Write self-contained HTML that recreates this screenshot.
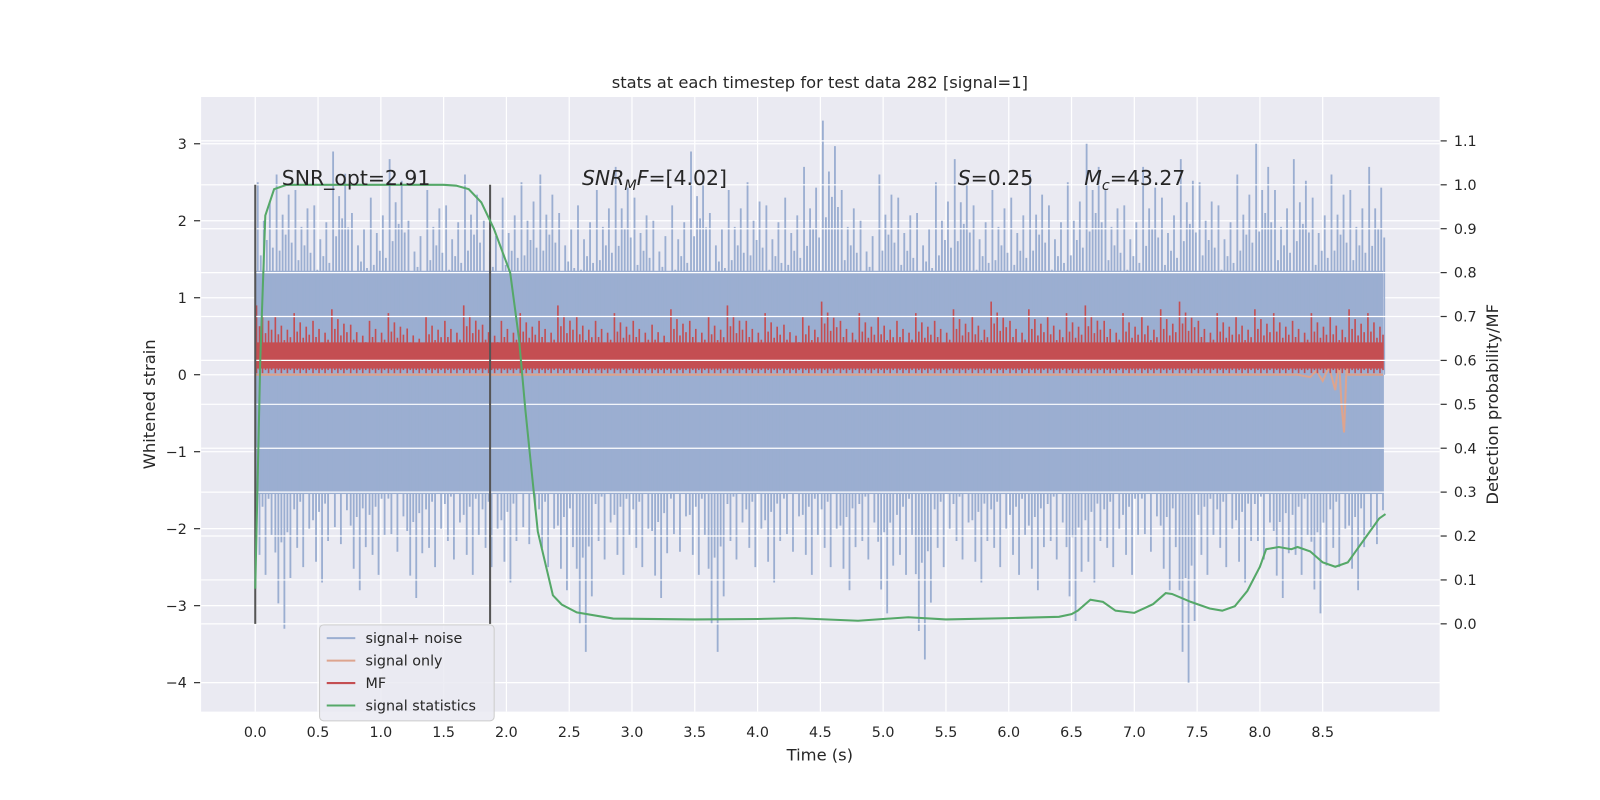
<!DOCTYPE html>
<html><head><meta charset="utf-8"><style>
html,body{margin:0;padding:0;background:#fff;overflow:hidden;width:1600px;height:800px;}
svg{display:block;font-family:"DejaVu Sans","Liberation Sans",sans-serif;}
</style></head><body>
<svg id="chart" width="1600" height="800">
<g transform="scale(1.021)">
<g id="data"></g>
<text x="803" y="86" text-anchor="middle" font-size="16" fill="#262626">stats at each timestep for test data 282 [signal=1]</text>
<text x="803" y="745" text-anchor="middle" font-size="16" fill="#262626">Time (s)</text>
<text transform="translate(152,396) rotate(-90)" text-anchor="middle" font-size="16" fill="#262626">Whitened strain</text>
<text transform="translate(1467,396) rotate(-90)" text-anchor="middle" font-size="16" fill="#262626">Detection probability/MF</text>
<g font-size="20" fill="#262626">
<text x="276" y="181">SNR_opt=2.91</text>
<text x="570" y="181"><tspan font-style="italic">SNR</tspan><tspan font-style="italic" font-size="14" dy="5">M</tspan><tspan font-style="italic" dy="-5">F</tspan>=[4.02]</text>
<text x="938" y="181"><tspan font-style="italic">S</tspan>=0.25</text>
<text x="1062" y="181"><tspan font-style="italic">M</tspan><tspan font-style="italic" font-size="14" dy="5">c</tspan><tspan dy="-5">=43.27</tspan></text>
</g>
<g font-size="14" fill="#262626">
<rect x="313" y="612" width="171" height="94" rx="4" fill="#EAEAF2" fill-opacity="0.85" stroke="#ccc"/>
<line x1="320" x2="348" y1="625" y2="625" stroke="#9BAED1" stroke-width="2"/><text x="358" y="630">signal+ noise</text>
<line x1="320" x2="348" y1="647" y2="647" stroke="#DDA48E" stroke-width="2"/><text x="358" y="652">signal only</text>
<line x1="320" x2="348" y1="669" y2="669" stroke="#C44E52" stroke-width="2"/><text x="358" y="674">MF</text>
<line x1="320" x2="348" y1="691" y2="691" stroke="#55A868" stroke-width="2"/><text x="358" y="696">signal statistics</text>
</g>
</g>
</svg>
<script>
// ---- data ----
const xTicks=[0,0.5,1,1.5,2,2.5,3,3.5,4,4.5,5,5.5,6,6.5,7,7.5,8,8.5];
const yLeftTicks=[3,2,1,0,-1,-2,-3,-4];
const yRightTicks=[0,0.1,0.2,0.3,0.4,0.5,0.6,0.7,0.8,0.9,1.0,1.1];
const noiseTop=[2.5,2.6,2.4,2.2,2.9,2.1,2.3,2.8,2.0,2.4,2.2,2.6,2.0,2.3,2.5,2.6,2.1,2.2,2.4,2.7,2.3,2.0,2.2,2.9,2.1,2.4,2.5,2.2,2.3,2.7,3.3,2.4,2.0,2.6,2.3,2.1,2.5,2.8,2.2,2.4,2.3,2.6,2.2,2.5,3.0,2.4,2.2,2.7,2.3,2.8,2.5,2.2,2.6,3.0,2.4,2.8,2.3,2.6,2.4,2.7];
const noiseBot=[-2.6,-3.3,-2.5,-2.7,-2.2,-2.8,-2.6,-2.3,-2.9,-2.5,-2.4,-2.6,-2.5,-2.7,-2.2,-2.5,-2.8,-3.6,-2.4,-2.6,-2.5,-2.9,-2.3,-2.6,-3.6,-2.4,-2.5,-2.7,-2.3,-2.6,-2.5,-2.8,-2.4,-3.1,-2.6,-3.7,-2.5,-2.4,-2.7,-2.5,-2.6,-2.8,-2.4,-3.2,-2.7,-2.5,-2.6,-2.3,-2.8,-4.0,-2.6,-2.5,-2.7,-2.4,-2.9,-2.6,-3.1,-2.5,-2.8,-2.2];
const mfTop=[0.9,0.75,0.8,0.7,0.85,0.65,0.7,0.8,0.6,0.75,0.7,0.9,0.65,0.7,0.8,0.7,0.9,0.75,0.7,0.8,0.7,0.65,0.85,0.7,0.75,0.9,0.7,0.8,0.65,0.75,0.95,0.7,0.8,0.75,0.7,0.8,0.7,0.85,0.75,0.95,0.7,0.85,0.75,0.8,0.9,0.7,0.8,0.75,0.85,0.95,0.7,0.8,0.75,0.85,0.8,0.7,0.8,0.75,0.85,0.8];
const sigT=[0,8.3,8.4,8.45,8.5,8.55,8.6,8.63,8.65,8.67,8.69,8.7];
const sigV=[0,0,-0.03,0.05,-0.08,0.1,-0.2,0.2,-0.4,-0.75,0.1,0];
const statT=[0,0.04,0.08,0.15,0.25,1.0,1.5,1.6,1.7,1.8,1.9,2.03,2.1,2.15,2.25,2.37,2.44,2.56,2.85,3.5,4.0,4.3,4.8,5.2,5.5,6.0,6.4,6.5,6.55,6.65,6.75,6.85,7.0,7.15,7.25,7.3,7.45,7.6,7.7,7.8,7.9,8.0,8.05,8.15,8.25,8.3,8.4,8.5,8.6,8.7,8.75,8.85,8.95,9.0];
const statV=[0.08,0.6,0.93,0.99,1.0,1.0,1.0,0.998,0.99,0.96,0.9,0.8,0.65,0.49,0.21,0.065,0.044,0.026,0.012,0.01,0.011,0.013,0.007,0.015,0.01,0.013,0.016,0.022,0.03,0.055,0.05,0.03,0.025,0.045,0.07,0.068,0.05,0.035,0.03,0.04,0.075,0.13,0.17,0.175,0.17,0.175,0.165,0.14,0.13,0.14,0.16,0.2,0.24,0.25];
const markers=[0,1.87];
// ---- axes ----
const X=t=>250+t*123;
const YL=v=>367-v*75.4;
const YR=v=>611-v*430;
const root=document.getElementById('data');
const NS='http://www.w3.org/2000/svg';
function mk(tag,attrs,parent){const e=document.createElementNS(NS,tag);for(const k in attrs)e.setAttribute(k,attrs[k]);(parent||root).appendChild(e);return e;}
const bg=mk('rect',{x:197,y:95,width:1213,height:602,fill:'#EAEAF2'});


yLeftTicks.forEach(v=>{mk('line',{x1:197,x2:1410,y1:YL(v),y2:YL(v),stroke:'#fff','stroke-width':1.2});
 mk('line',{x1:190,x2:196,y1:YL(v),y2:YL(v),stroke:'#333','stroke-width':1.2});
 const t=mk('text',{x:183,y:YL(v)+5,'text-anchor':'end','font-size':14,fill:'#262626'});t.textContent=(v<0?'\u2212'+(-v):v);
 
 });
xTicks.forEach(v=>{mk('line',{x1:X(v),x2:X(v),y1:95,y2:697,stroke:'#fff','stroke-width':1.2});
 const t=mk('text',{x:X(v),y:722,'text-anchor':'middle','font-size':14,fill:'#262626'});t.textContent=v.toFixed(1);
 
 });
const NC='#9BAED1';
const gN=mk('g',{});


mk('rect',{x:X(0),y:YL(1.35),width:X(8.98)-X(0),height:YL(-1.55)-YL(1.35),fill:NC},gN);
const fr=[1,0.62,0.8,0.7,0.9,0.66];
noiseTop.forEach((v,i)=>{fr.forEach((f,j)=>{const t=i*0.15+0.02+j*0.024;
 mk('line',{x1:X(t),x2:X(t),y1:YL(0),y2:YL(v*f),stroke:NC,'stroke-width':1.8},gN);});});
noiseBot.forEach((v,i)=>{fr.forEach((f,j)=>{const t=i*0.15+0.01+((j+3)%6)*0.024;
 mk('line',{x1:X(t),x2:X(t),y1:YL(0),y2:YL(v*f),stroke:NC,'stroke-width':1.8},gN);});});
let d='';sigT.forEach((t,i)=>{d+=(i?'L':'M')+X(t)+' '+YL(sigV[i]);});d+='L'+X(8.98)+' '+YL(0);
const so=mk('path',{d:d,fill:'none',stroke:'#DDA48E','stroke-width':2});


const MC='#C44E52';
const gM=mk('g',{});


mk('rect',{x:X(0),y:YL(0.42),width:X(8.98)-X(0),height:YL(0.08)-YL(0.42),fill:MC},gM);
const mf=[1,0.7,0.85,0.6,0.78,0.65];
mfTop.forEach((v,i)=>{mf.forEach((f,j)=>{const t=i*0.15+0.01+j*0.024;
 mk('line',{x1:X(t),x2:X(t),y1:YL(0.02+0.04*(j%2)),y2:YL(v*f),stroke:MC,'stroke-width':1.6},gM);});});
yRightTicks.forEach(v=>{mk('line',{x1:197,x2:1410,y1:YR(v),y2:YR(v),stroke:'#fff','stroke-width':1.2});
 mk('line',{x1:1411,x2:1417,y1:YR(v),y2:YR(v),stroke:'#333','stroke-width':1.2});
 const t=mk('text',{x:1424,y:YR(v)+5,'font-size':14,fill:'#262626'});t.textContent=v.toFixed(1);
 
 });
markers.forEach(t=>{const l=mk('line',{x1:X(t),x2:X(t),y1:YR(1.0),y2:YR(0),stroke:'#555','stroke-width':2});
 
 });
d='';statT.forEach((t,i)=>{d+=(i?'L':'M')+X(t)+' '+YR(statV[i]);});
const st=mk('path',{d:d,fill:'none',stroke:'#55A868','stroke-width':2});


</script>
</body></html>
